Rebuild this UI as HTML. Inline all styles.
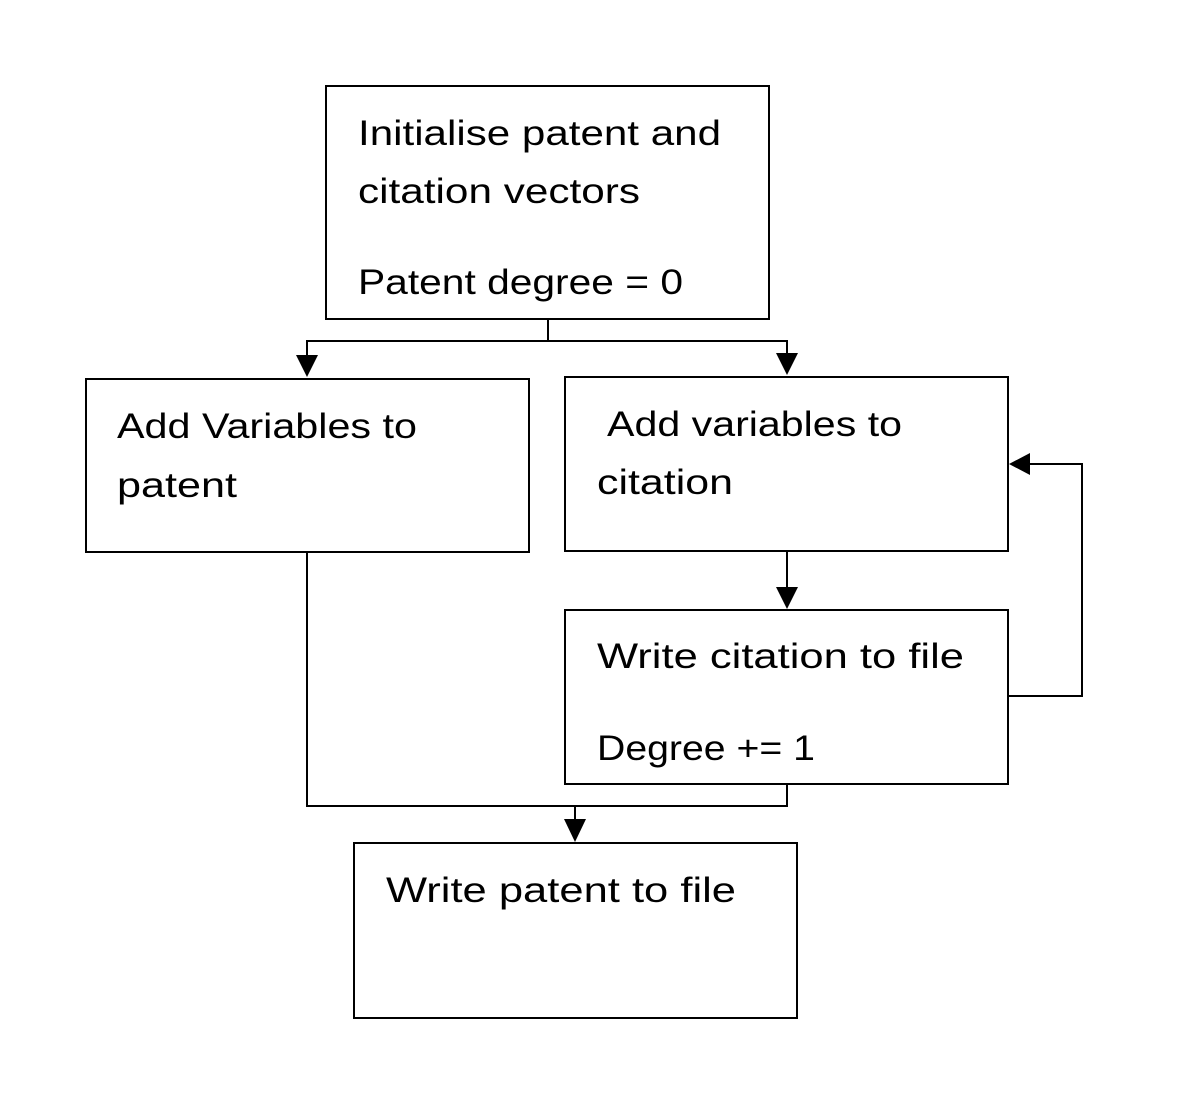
<!DOCTYPE html>
<html><head><meta charset="utf-8"><style>
html,body{margin:0;padding:0;background:#fff;}
svg{display:block;}
text{font-family:"Liberation Sans",sans-serif;font-size:35px;fill:#000;}
</style></head><body>
<svg width="1194" height="1112" viewBox="0 0 1194 1112" xmlns="http://www.w3.org/2000/svg">
<g fill="none" stroke="#000" stroke-width="2">
<rect x="326" y="86" width="443" height="233"/>
<rect x="86" y="379" width="443" height="173"/>
<rect x="565" y="377" width="443" height="174"/>
<rect x="565" y="610" width="443" height="174"/>
<rect x="354" y="843" width="443" height="175"/>
<polyline points="548,319 548,341"/>
<polyline points="307,362 307,341 787,341 787,360"/>
<polyline points="787,551 787,592"/>
<polyline points="1008,696 1082,696 1082,464 1028,464"/>
<polyline points="307,552 307,806 787,806 787,784"/>
<polyline points="575,806 575,825"/>
</g>
<g fill="#000">
<polygon points="296,355 318,355 307,377"/>
<polygon points="776,353 798,353 787,375"/>
<polygon points="776,587 798,587 787,609"/>
<polygon points="1030,453 1030,475 1009,464"/>
<polygon points="564,819 586,819 575,842"/>
</g>
<text x="358" y="145" textLength="363" lengthAdjust="spacingAndGlyphs">Initialise patent and</text>
<text x="358" y="203" textLength="282" lengthAdjust="spacingAndGlyphs">citation vectors</text>
<text x="358" y="294" textLength="325" lengthAdjust="spacingAndGlyphs">Patent degree = 0</text>
<text x="117" y="438" textLength="300" lengthAdjust="spacingAndGlyphs">Add Variables to</text>
<text x="117" y="497" textLength="120" lengthAdjust="spacingAndGlyphs">patent</text>
<text x="607" y="436" textLength="295" lengthAdjust="spacingAndGlyphs">Add variables to</text>
<text x="597" y="494" textLength="136" lengthAdjust="spacingAndGlyphs">citation</text>
<text x="597" y="668" textLength="367" lengthAdjust="spacingAndGlyphs">Write citation to file</text>
<text x="597" y="760" textLength="218" lengthAdjust="spacingAndGlyphs">Degree += 1</text>
<text x="386" y="902" textLength="350" lengthAdjust="spacingAndGlyphs">Write patent to file</text>
</svg>
</body></html>
